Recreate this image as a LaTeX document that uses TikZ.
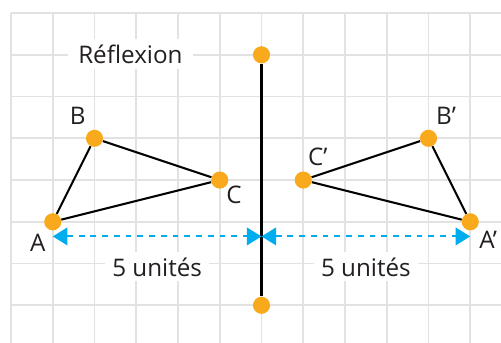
\documentclass[tikz,border=0pt]{standalone}
\usepackage{fontspec}
\setmainfont{Open Sans}
\usetikzlibrary{arrows.meta,positioning}
\definecolor{dotorange}{HTML}{F9A91C}
\definecolor{distblue}{HTML}{00AEEF}
\definecolor{gridgray}{HTML}{E2E2E2}
\definecolor{inkgray}{HTML}{231F20}
\tikzstyle{gridline} = [gridgray, line width = 1.2pt]
\tikzstyle{dot} = [ circle, fill = dotorange, inner sep = 0pt, %
                    minimum size = 0.41cm ]
\tikzstyle{side} = [line width = 1.4pt, draw = black]
\tikzstyle{dist} = [ distblue, line width = 1.4pt, %
                     dash pattern = on 4pt off 4pt, %
                     {Triangle[length=10pt,width=12pt]}-{Triangle[length=10pt,width=12pt]} ]
\tikzstyle{lbl} = [text = inkgray, font = \fontsize{16.5}{19}\selectfont, inner sep = 0pt]
\tikzstyle{tag} = [lbl, fill = white, inner ysep = 3.5pt, anchor = base]

\begin{document}
\begin{tikzpicture}
      \useasboundingbox (-0.2635,-0.903) rectangle (11.737,7.313);
      % Grid
      \draw [gridline] (0,-0.903) grid (11.737,7);
      % Labels on the grid
      \node (title) [tag,inner xsep=7pt] at (2.86,5.80) {Réflexion};
      \node (distL) [tag,inner xsep=5pt] at (3.5,0.70) {5 unités};
      \node (distR) [tag,inner xsep=5pt] at (8.5,0.70) {5 unités};
      % Points
      \node (A)  [dot] at (1,2)  {};
      \node (B)  [dot] at (2,4)  {};
      \node (C)  [dot] at (5,3)  {};
      \node (A') [dot] at (11,2) {};
      \node (B') [dot] at (10,4) {};
      \node (C') [dot] at (7,3)  {};
      \node (top) [dot] at (6,6) {};
      \node (bot) [dot] at (6,0) {};
      % Mirror and triangles
      \draw [side] (top) -- (bot);
      \draw [side] (A) -- (B) -- (C) -- (A);
      \draw [side] (A') -- (B') -- (C') -- (A');
      % Distances
      \coordinate (dl) at (1,1.65);
      \coordinate (dm) at (6,1.65);
      \coordinate (dr) at (11,1.65);
      \draw [dist] (dl) -- (dm);
      \draw [dist] (dm) -- (dr);
      % Point names
      \node [lbl] at ([shift={(-0.36,-0.51)}]A)  {A};
      \node [lbl] at ([shift={(-0.40,0.53)}]B)   {B};
      \node [lbl] at ([shift={(0.34,-0.36)}]C)   {C};
      \node [lbl] at ([shift={(0.43,-0.42)}]A') {A’};
      \node [lbl] at ([shift={(0.42,0.53)}]B')  {B’};
      \node [lbl] at ([shift={(0.35,0.55)}]C')  {C’};
    \end{tikzpicture}
\end{document}
